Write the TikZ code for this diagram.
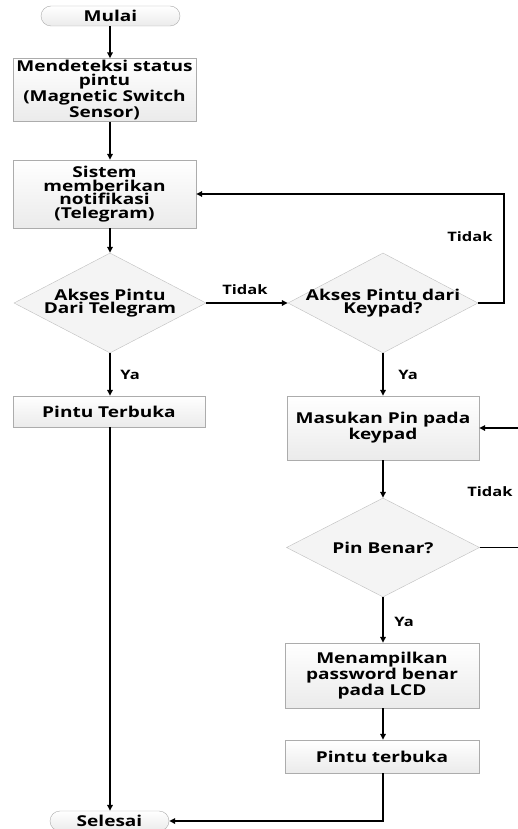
\documentclass[tikz,border=0pt]{standalone}
\usepackage{fontspec}
\setmainfont{Open Sans}[FakeStretch=1.27]
\usetikzlibrary{shapes.geometric,shapes.misc,arrows.meta}
\begin{document}
\begin{tikzpicture}[x=1pt,y=-1pt,
  txtfont/.style={font=\bfseries\fontsize{15}{13.6}\selectfont},
  box/.style={draw=gray!65, top color=white, bottom color=gray!16, align=center, inner sep=2pt, txtfont},
  term/.style={rounded rectangle, draw=gray!65, top color=white, bottom color=gray!16, inner sep=1pt, txtfont},
  dec/.style={diamond, draw=gray!50, fill=gray!9, inner sep=0pt},
  dtxt/.style={align=center, inner sep=0pt, txtfont},
  lbl/.style={font=\bfseries\fontsize{13}{13}\selectfont, inner sep=0pt},
  arr/.style={line width=1.6pt, -{Triangle[length=6pt,width=5.5pt]}}]
\useasboundingbox (0,0) rectangle (517,829);
\fill[white] (0,0) rectangle (517,829);

\coordinate (cl) at (110,0);
\coordinate (cr) at (383,0);
\coordinate (lp1) at (504,0);
\coordinate (lp2) at (524,0);

\node[term, minimum width=141pt, minimum height=20pt] (mulai) at (110.5,16) {Mulai};
\node[box, minimum width=183pt, minimum height=63pt] (b1) at (104.5,90) {Mendeteksi status\\pintu\\(Magnetic Switch\\Sensor)};
\node[box, minimum width=183pt, minimum height=68pt] (b2) at (104.5,194) {Sistem\\memberikan\\notifikasi\\(Telegram)};
\node[dec, minimum width=192pt, minimum height=100pt] (d1) at (110,303) {};
\node[dtxt] (t1) at (d1) {Akses Pintu\\Dari Telegram};
\node[dec, minimum width=190pt, minimum height=100pt] (d2) at (383,303) {};
\node[dtxt] (t2) at (d2) {Akses Pintu dari\\Keypad?};
\node[box, minimum width=192pt, minimum height=31pt] (p1) at (109,411.5) {Pintu Terbuka};
\node[box, minimum width=192pt, minimum height=64pt] (b3) at (383,428) {Masukan Pin pada\\keypad};
\node[dec, minimum width=193pt, minimum height=99pt] (d3) at (383,547.5) {};
\node[dtxt] (t3) at (d3) {Pin Benar?};
\node[box, minimum width=194pt, minimum height=65pt] (b4) at (382,675.5) {Menampilkan\\password benar\\pada LCD};
\node[box, minimum width=194pt, minimum height=33pt] (b5) at (382,756.5) {Pintu terbuka};
\node[term, minimum width=121pt, minimum height=20pt] (sel) at (109.5,821) {Selesai};

\node[lbl] (l1) at (245,290) {Tidak};
\node[lbl] (l2) at (470,237) {Tidak};
\node[lbl] (l3) at (130,375) {Ya};
\node[lbl] (l4) at (408,375) {Ya};
\node[lbl] (l5) at (490,492) {Tidak};
\node[lbl] (l6) at (404,622) {Ya};

\draw[arr] (mulai.south -| cl) -- (b1.north -| cl);
\draw[arr] (b1.south -| cl) -- (b2.north -| cl);
\draw[arr] (b2.south -| cl) -- (d1.north);
\draw[arr] (d1.east) -- (d2.west);
\draw[arr] (d2.east) -- (d2.east -| lp1) |- (b2.east);
\draw[arr] (d1.south) -- (p1.north -| cl);
\draw[arr] (d2.south) -- (b3.north -| cr);
\draw[arr] (b3.south -| cr) -- (d3.north);
\draw[arr] (d3.east) -- (d3.east -| lp2) |- (b3.east);
\draw[arr] (d3.south) -- (b4.north -| cr);
\draw[arr] (b4.south -| cr) -- (b5.north -| cr);
\draw[arr] (b5.south -| cr) |- (sel.east);
\draw[arr] (p1.south -| cl) -- (sel.north -| cl);
\end{tikzpicture}
\end{document}
